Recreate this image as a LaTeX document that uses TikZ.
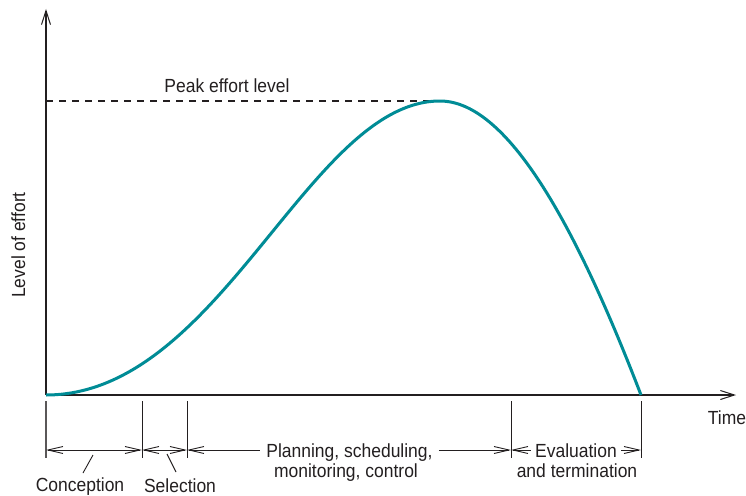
\documentclass[tikz,border=0pt]{standalone}
\usepackage{fontspec}
\setmainfont[FakeStretch=0.92]{Liberation Sans}
\usetikzlibrary{arrows.meta}
\definecolor{ink}{RGB}{35,31,32}
\definecolor{curveteal}{RGB}{0,140,150}
\tikzset{
  lbl/.style={font=\fontsize{19}{20}\selectfont, text=ink, inner sep=0pt, anchor=base},
  axisline/.style={draw=ink, line width=1.4pt, -{Straight Barb[length=14pt,width=9pt,line width=1pt]}},
  tickline/.style={draw=ink, line width=0.9pt},
  dimline/.style={draw=ink, line width=0.9pt},
  barb/.tip={Straight Barb[length=15pt,width=7pt,line width=0.9pt]},
  leader/.style={draw=ink, line width=0.9pt},
  effort/.style={draw=curveteal, line width=3pt},
  peakline/.style={draw=ink, line width=1.2pt, dash pattern=on 7pt off 6pt}
}
\begin{document}
\begin{tikzpicture}[x=1pt,y=-1pt]
\useasboundingbox[fill=white] (0,0) rectangle (746,495);
% axes
\coordinate (O) at (46,395);
\coordinate (ytop) at (46,9);
\coordinate (xend) at (736,395);
\draw[axisline] (O) -- (ytop);
\draw[axisline] (O) -- (xend);
% peak
\coordinate (peak) at (440,101);
\coordinate (peakleft) at (46,101);
\coordinate (curveend) at (641,395);
\draw[peakline] (peakleft) -- (peak);
\node[lbl] (peaklbl) at (227,92.5) {Peak effort level};
% curve
\draw[effort] (O) .. controls (220,395) and (309,101) .. (peak)
  .. controls (511,101) and (581,239) .. (curveend);
% labels of axes
\node[lbl, rotate=90] (ylbl) at (25,245) {Level of effort};
\node[lbl] (timelbl) at (727,424) {Time};
% ticks
\draw[tickline, draw=ink!75, line width=1.3pt] (46,401) -- (46,458);
\draw[tickline] (142,401) -- (142,458);
\draw[tickline] (187,401) -- (187,458);
\draw[tickline] (511,401) -- (511,458);
\draw[tickline] (641,401) -- (641,458);
% dimension line
\coordinate (d0) at (46,450);
\coordinate (d1) at (142,450);
\coordinate (d2) at (187,450);
\coordinate (d3) at (511,450);
\coordinate (d4) at (641,450);
\node[lbl, inner xsep=6pt] (plan) at (349.5,457) {Planning, scheduling,};
\node[lbl] (plan2) at (346,477) {monitoring, control};
\node[lbl, inner xsep=4pt] (eval) at (576,457) {Evaluation};
\node[lbl] (eval2) at (577,477) {and termination};
\draw[dimline, barb-barb] (d0) -- (d1);
\draw[dimline, barb-barb] (d1) -- (d2);
\draw[dimline, barb-] (d2) -- (plan.west |- d2);
\draw[dimline, -barb] (plan.east |- d3) -- (d3);
\draw[dimline, barb-] (d3) -- (eval.west |- d3);
\draw[dimline, -barb] (eval.east |- d4) -- (d4);
% phase labels with leaders
\node[lbl] (conc) at (80,491) {Conception};
\node[lbl] (sel) at (180,492) {Selection};
\coordinate (concA) at (93,455);
\coordinate (concB) at (83,473);
\coordinate (selA) at (167,454);
\coordinate (selB) at (176,472);
\draw[leader] (concA) -- (concB);
\draw[leader] (selA) -- (selB);
\end{tikzpicture}
\end{document}
